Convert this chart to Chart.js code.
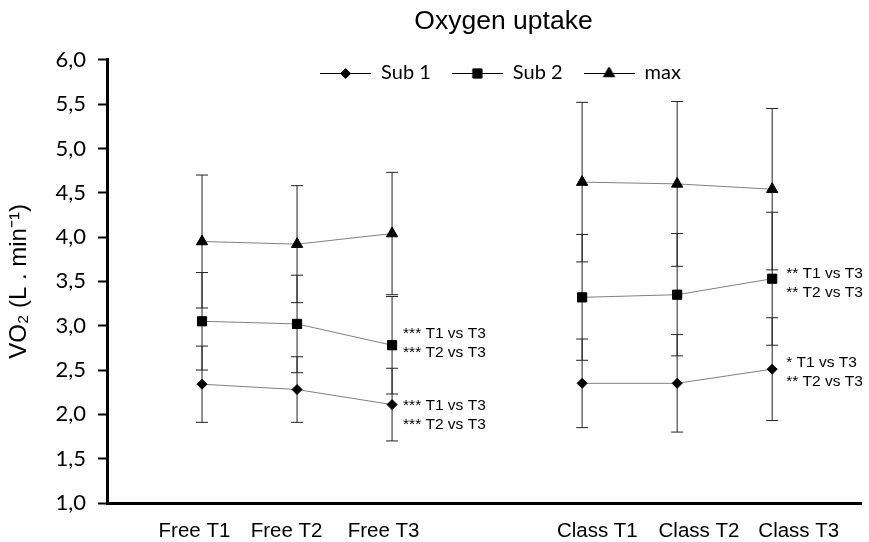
<!DOCTYPE html>
<html>
<head>
<meta charset="utf-8">
<title>Oxygen uptake</title>
<script src="https://cdn.jsdelivr.net/npm/chart.js@4.4.0/dist/chart.umd.min.js"></script>
<style>
  html, body { margin: 0; padding: 0; background: #fff; }
</style>
</head>
<body>
<canvas id="grafica" width="869" height="542"></canvas>
<script>
// categories (the empty one is the gap between the two groups)
const categories = ['Free T1', 'Free T2', 'Free T3', '', 'Class T1', 'Class T2', 'Class T3'];

// group means and SD
const sub1   = [2.34, 2.28, 2.11, null, 2.35, 2.35, 2.51];
const sub1Sd = [0.43, 0.37, 0.41, null, 0.50, 0.55, 0.58];
const sub2   = [3.05, 3.02, 2.78, null, 3.32, 3.35, 3.53];
const sub2Sd = [0.55, 0.55, 0.55, null, 0.71, 0.69, 0.75];
const max    = [3.95, 3.92, 4.04, null, 4.62, 4.60, 4.54];
const maxSd  = [0.75, 0.66, 0.69, null, 0.90, 0.93, 0.91];

const yTicks = [1.0, 1.5, 2.0, 2.5, 3.0, 3.5, 4.0, 4.5, 5.0, 5.5, 6.0];

// significance notes next to the T3 points
const notes = [
  { series: 'Sub 2', at: 2, lines: ['*** T1 vs T3', '*** T2 vs T3'] },
  { series: 'Sub 1', at: 2, lines: ['*** T1 vs T3', '*** T2 vs T3'] },
  { series: 'Sub 2', at: 6, lines: ['** T1 vs T3', '** T2 vs T3'] },
  { series: 'Sub 1', at: 6, lines: ['* T1 vs T3', '** T2 vs T3'] }
];

const series = { 'Sub 1': sub1, 'Sub 2': sub2, 'max': max };

function points(values) {
  return values.map((v, i) => ({ x: i + 1, y: v }));
}

// each error bar: low point, high point, then a gap
function errPoints(values, sd) {
  const out = [];
  values.forEach((v, i) => {
    if (v === null) return;
    out.push({ x: i + 1, y: v - sd[i] }, { x: i + 1, y: v + sd[i] }, { x: i + 1, y: null });
  });
  return out;
}

function legendIcon(style, radius) {
  const c = document.createElement('canvas');
  c.width = 51; c.height = 16;
  const g = c.getContext('2d');
  g.strokeStyle = '#000';
  g.fillStyle = '#000';
  g.lineWidth = 1;
  g.beginPath();
  g.moveTo(0, 8.5); g.lineTo(51, 8.5);
  g.stroke();
  Chart.helpers.drawPoint(g, { pointStyle: style, radius: radius, rotation: 0, borderWidth: 1 }, 25.5, 8.5);
  return c;
}

const meanStyle = { borderColor: '#808080', borderWidth: 1, pointBackgroundColor: '#000', pointBorderColor: '#000',
  pointBorderWidth: 1, spanGaps: false, order: 0, clip: false };
const errStyle = { borderColor: '#222', borderWidth: 1, pointStyle: 'line', pointRadius: 6, pointBorderColor: '#222',
  pointBorderWidth: 1, spanGaps: false, order: 1, clip: false };

const notesPlugin = {
  id: 'notes',
  afterDatasetsDraw(chart) {
    const { ctx, scales: { x, y } } = chart;
    const dx = [11, 11, 14, 14];
    const dy = [-12, 1, -5, -6];
    ctx.save();
    ctx.font = '15.5px "Liberation Sans", Arial, sans-serif';
    ctx.fillStyle = '#000';
    ctx.textBaseline = 'middle';
    notes.forEach((n, k) => {
      const px = x.getPixelForValue(n.at + 1) + dx[k];
      const py = y.getPixelForValue(series[n.series][n.at]) + dy[k];
      n.lines.forEach((t, j) => ctx.fillText(t, px, py + j * 19));
    });
    ctx.restore();
  }
};

// move title and legend to where they sit in the original
const nudge = {
  id: 'nudge',
  afterLayout(chart) {
    chart.titleBlock.left += 69; chart.titleBlock.right += 69;
    const lg = chart.legend;
    lg.left += 66; lg.right += 66;
    lg.top = 42; lg.bottom = 102;
  }
};

new Chart(document.getElementById('grafica'), {
  type: 'line',
  data: {
    datasets: [
      Object.assign({ label: 'Sub 1', data: points(sub1), pointStyle: 'rectRot', pointRadius: 5 }, meanStyle),
      Object.assign({ label: 'Sub 2', data: points(sub2), pointStyle: 'rect', pointRadius: 6.5 }, meanStyle),
      Object.assign({ label: 'max', data: points(max), pointStyle: 'triangle', pointRadius: 6.5 }, meanStyle),
      Object.assign({ label: 'err1', data: errPoints(sub1, sub1Sd) }, errStyle),
      Object.assign({ label: 'err2', data: errPoints(sub2, sub2Sd) }, errStyle),
      Object.assign({ label: 'err3', data: errPoints(max, maxSd) }, errStyle)
    ]
  },
  options: {
    responsive: false,
    animation: false,
    events: [],
    devicePixelRatio: 1,
    layout: { padding: 0 },
    plugins: {
      title: {
        display: true,
        text: 'Oxygen uptake',
        color: '#000',
        font: { family: '"Liberation Sans", Arial, sans-serif', size: 26.5, weight: 'normal' },
        padding: { top: 6, bottom: 21 }
      },
      legend: {
        position: 'top',
        maxHeight: 1,
        labels: {
          usePointStyle: true,
          pointStyleWidth: 51,
          padding: 21,
          color: '#000',
          font: { family: 'Lato, sans-serif', size: 20 },
          generateLabels: chart => chart.data.datasets.slice(0, 3).map((ds, i) => ({
            text: ds.label,
            datasetIndex: i,
            pointStyle: legendIcon(ds.pointStyle, ds.pointRadius),
            fontColor: '#000',
            lineWidth: 0,
            strokeStyle: 'transparent',
            fillStyle: 'transparent'
          }))
        }
      },
      tooltip: { enabled: false }
    },
    scales: {
      x: {
        type: 'linear',
        min: 0,
        max: 7.94,
        afterFit(s) { s.height = 39; },
        // the category labels in the original sit a little off their points
        afterBuildTicks(s) {
          const slots = [0.92, 1.89, 2.91, null, 5.16, 6.23, 7.28];
          s.ticks = slots.map((v, i) => ({ value: v, label: categories[i] })).filter(t => t.value !== null);
        },
        ticks: {
          autoSkip: false,
          maxRotation: 0,
          padding: 16,
          color: '#000',
          font: { family: '"Liberation Sans", Arial, sans-serif', size: 20.5 },
          callback: v => categories[Math.round(v) - 1]
        },
        grid: { display: false, drawTicks: false },
        border: { display: true, color: '#000', width: 3 }
      },
      y: {
        min: 1,
        max: 6,
        afterFit(s) { s.width = 107; },
        afterBuildTicks(s) { s.ticks = yTicks.map(v => ({ value: v })); },
        ticks: {
          padding: 12,
          color: '#000',
          font: { family: 'Lato, sans-serif', size: 22 },
          callback: v => v.toFixed(1).replace('.', ',')
        },
        grid: { drawOnChartArea: false, drawTicks: true, tickLength: 9, tickWidth: 2, color: '#000' },
        border: { display: true, color: '#000', width: 3 },
        title: {
          display: true,
          text: 'VO₂ (L . min⁻¹)',
          color: '#000',
          font: { family: '"Liberation Sans", Arial, sans-serif', size: 24 },
          padding: { top: 5, bottom: 0 }
        }
      }
    }
  },
  plugins: [notesPlugin, nudge]
});
</script>
</body>
</html>
